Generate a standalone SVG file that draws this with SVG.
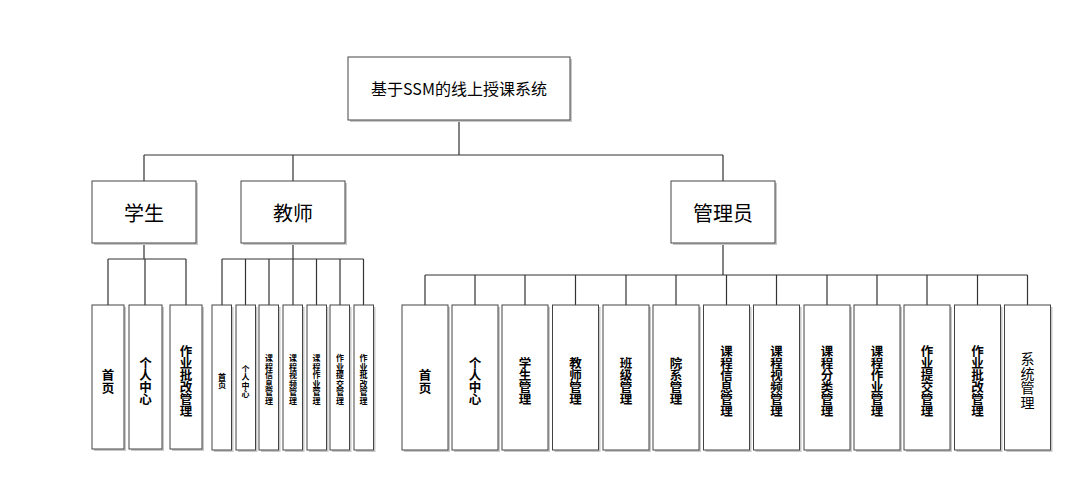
<svg xmlns="http://www.w3.org/2000/svg" width="1072" height="490" viewBox="0 0 1072 490">
<style>
.bx{fill:#fff;stroke:#444;stroke-width:1}
.sh{fill:#c8c8c8}
.ln{fill:none;stroke:#333;stroke-width:1.2}
text{font-family:"Noto Sans CJK SC","Liberation Sans",sans-serif;fill:#000;text-anchor:middle;dominant-baseline:central}
.t0{font-size:16px}
.t1{font-size:20px}
.v{font-size:12.5px;font-weight:bold}
.vs{font-size:14px}
.vt{font-size:8px;font-weight:bold}
</style>
<rect width="1072" height="490" fill="#fff"/>
<g id="connectors">
<path class="ln" d="M459,120V155M144,155H723M144,155V181M293,155V181M723,155V181"/>
<path class="ln" d="M144,243V259M108,259H186M108,259V305M145,259V305M186,259V305"/>
<path class="ln" d="M293,243V259M222,259H363.5M222,259V305M245.5,259V305M269,259V305M293,259V305M316.5,259V305M340,259V305M363.5,259V305"/>
<path class="ln" d="M723,243V275M425,275H1027.5M425,275V305M475,275V305M525,275V305M575.5,275V305M626,275V305M676,275V305M726.5,275V305M776.5,275V305M827,275V305M877,275V305M927,275V305M977.5,275V305M1027.5,275V305"/>
</g>
<g id="root"><rect class="sh" x="350" y="59" width="222" height="63"/><rect class="bx" x="348" y="57" width="222" height="63"/><text class="t0" x="459" y="88">基于SSM的线上授课系统</text></g>
<g id="student"><rect class="sh" x="94" y="183" width="104" height="62"/><rect class="bx" x="92" y="181" width="104" height="62"/><text class="t1" x="144" y="212">学生</text></g>
<g id="teacher"><rect class="sh" x="243" y="183" width="104" height="62"/><rect class="bx" x="241" y="181" width="104" height="62"/><text class="t1" x="293" y="212">教师</text></g>
<g id="admin"><rect class="sh" x="673" y="183" width="104" height="62"/><rect class="bx" x="671" y="181" width="104" height="62"/><text class="t1" x="723" y="212">管理员</text></g>

<g id="s1"><rect class="sh" x="94" y="307" width="32" height="144"/><rect class="bx" x="92" y="305" width="32" height="144"/><text class="v"><tspan x="108" y="373.5">首</tspan><tspan x="108" y="386.5">页</tspan></text></g>
<g id="s2"><rect class="sh" x="131" y="307" width="33" height="144"/><rect class="bx" x="129" y="305" width="33" height="144"/><text class="v"><tspan x="145.5" y="362">个</tspan><tspan x="145.5" y="374">人</tspan><tspan x="145.5" y="386">中</tspan><tspan x="145.5" y="398">心</tspan></text></g>
<g id="s3"><rect class="sh" x="172" y="307" width="32" height="144"/><rect class="bx" x="170" y="305" width="32" height="144"/><text class="v"><tspan x="186" y="350">作</tspan><tspan x="186" y="362">业</tspan><tspan x="186" y="374">批</tspan><tspan x="186" y="386">改</tspan><tspan x="186" y="398">管</tspan><tspan x="186" y="410">理</tspan></text></g>

<g id="t1"><rect class="sh" x="214" y="307" width="19.5" height="145"/><rect class="bx" x="212" y="305" width="19.5" height="145"/><text class="vt"><tspan x="222" y="375.5">首</tspan><tspan x="222" y="384">页</tspan></text></g>
<g id="t2"><rect class="sh" x="238" y="307" width="19.5" height="145"/><rect class="bx" x="236" y="305" width="19.5" height="145"/><text class="vt"><tspan x="245.5" y="367.5">个</tspan><tspan x="245.5" y="376">人</tspan><tspan x="245.5" y="384.5">中</tspan><tspan x="245.5" y="393">心</tspan></text></g>
<g id="t3"><rect class="sh" x="261" y="307" width="19.5" height="145"/><rect class="bx" x="259" y="305" width="19.5" height="145"/><text class="vt"><tspan x="269" y="357">课</tspan><tspan x="269" y="365.5">程</tspan><tspan x="269" y="374">信</tspan><tspan x="269" y="382.5">息</tspan><tspan x="269" y="391">管</tspan><tspan x="269" y="399.5">理</tspan></text></g>
<g id="t4"><rect class="sh" x="285" y="307" width="19.5" height="145"/><rect class="bx" x="283" y="305" width="19.5" height="145"/><text class="vt"><tspan x="293" y="357">课</tspan><tspan x="293" y="365.5">程</tspan><tspan x="293" y="374">视</tspan><tspan x="293" y="382.5">频</tspan><tspan x="293" y="391">管</tspan><tspan x="293" y="399.5">理</tspan></text></g>
<g id="t5"><rect class="sh" x="309" y="307" width="19.5" height="145"/><rect class="bx" x="307" y="305" width="19.5" height="145"/><text class="vt"><tspan x="316.5" y="357">课</tspan><tspan x="316.5" y="365.5">程</tspan><tspan x="316.5" y="374">作</tspan><tspan x="316.5" y="382.5">业</tspan><tspan x="316.5" y="391">管</tspan><tspan x="316.5" y="399.5">理</tspan></text></g>
<g id="t6"><rect class="sh" x="332" y="307" width="19.5" height="145"/><rect class="bx" x="330" y="305" width="19.5" height="145"/><text class="vt"><tspan x="340" y="357">作</tspan><tspan x="340" y="365.5">业</tspan><tspan x="340" y="374">提</tspan><tspan x="340" y="382.5">交</tspan><tspan x="340" y="391">管</tspan><tspan x="340" y="399.5">理</tspan></text></g>
<g id="t7"><rect class="sh" x="356" y="307" width="19.5" height="145"/><rect class="bx" x="354" y="305" width="19.5" height="145"/><text class="vt"><tspan x="363.5" y="357">作</tspan><tspan x="363.5" y="365.5">业</tspan><tspan x="363.5" y="374">批</tspan><tspan x="363.5" y="382.5">改</tspan><tspan x="363.5" y="391">管</tspan><tspan x="363.5" y="399.5">理</tspan></text></g>

<g id="a1"><rect class="sh" x="404" y="307" width="46" height="145"/><rect class="bx" x="402" y="305" width="46" height="145"/><text class="v"><tspan x="425" y="373.5">首</tspan><tspan x="425" y="386.5">页</tspan></text></g>
<g id="a2"><rect class="sh" x="454" y="307" width="46" height="145"/><rect class="bx" x="452" y="305" width="46" height="145"/><text class="v"><tspan x="475" y="362">个</tspan><tspan x="475" y="374">人</tspan><tspan x="475" y="386">中</tspan><tspan x="475" y="398">心</tspan></text></g>
<g id="a3"><rect class="sh" x="504" y="307" width="46" height="145"/><rect class="bx" x="502" y="305" width="46" height="145"/><text class="v"><tspan x="525" y="362">学</tspan><tspan x="525" y="374">生</tspan><tspan x="525" y="386">管</tspan><tspan x="525" y="398">理</tspan></text></g>
<g id="a4"><rect class="sh" x="554.5" y="307" width="46" height="145"/><rect class="bx" x="552.5" y="305" width="46" height="145"/><text class="v"><tspan x="575.5" y="362">教</tspan><tspan x="575.5" y="374">师</tspan><tspan x="575.5" y="386">管</tspan><tspan x="575.5" y="398">理</tspan></text></g>
<g id="a5"><rect class="sh" x="605" y="307" width="46" height="145"/><rect class="bx" x="603" y="305" width="46" height="145"/><text class="v"><tspan x="626" y="362">班</tspan><tspan x="626" y="374">级</tspan><tspan x="626" y="386">管</tspan><tspan x="626" y="398">理</tspan></text></g>
<g id="a6"><rect class="sh" x="655" y="307" width="46" height="145"/><rect class="bx" x="653" y="305" width="46" height="145"/><text class="v"><tspan x="676" y="362">院</tspan><tspan x="676" y="374">系</tspan><tspan x="676" y="386">管</tspan><tspan x="676" y="398">理</tspan></text></g>
<g id="a7"><rect class="sh" x="705.5" y="307" width="46" height="145"/><rect class="bx" x="703.5" y="305" width="46" height="145"/><text class="v"><tspan x="726.5" y="350">课</tspan><tspan x="726.5" y="362">程</tspan><tspan x="726.5" y="374">信</tspan><tspan x="726.5" y="386">息</tspan><tspan x="726.5" y="398">管</tspan><tspan x="726.5" y="410">理</tspan></text></g>
<g id="a8"><rect class="sh" x="755.5" y="307" width="46" height="145"/><rect class="bx" x="753.5" y="305" width="46" height="145"/><text class="v"><tspan x="776.5" y="350">课</tspan><tspan x="776.5" y="362">程</tspan><tspan x="776.5" y="374">视</tspan><tspan x="776.5" y="386">频</tspan><tspan x="776.5" y="398">管</tspan><tspan x="776.5" y="410">理</tspan></text></g>
<g id="a9"><rect class="sh" x="806" y="307" width="46" height="145"/><rect class="bx" x="804" y="305" width="46" height="145"/><text class="v"><tspan x="827" y="350">课</tspan><tspan x="827" y="362">程</tspan><tspan x="827" y="374">分</tspan><tspan x="827" y="386">类</tspan><tspan x="827" y="398">管</tspan><tspan x="827" y="410">理</tspan></text></g>
<g id="a10"><rect class="sh" x="856" y="307" width="46" height="145"/><rect class="bx" x="854" y="305" width="46" height="145"/><text class="v"><tspan x="877" y="350">课</tspan><tspan x="877" y="362">程</tspan><tspan x="877" y="374">作</tspan><tspan x="877" y="386">业</tspan><tspan x="877" y="398">管</tspan><tspan x="877" y="410">理</tspan></text></g>
<g id="a11"><rect class="sh" x="906" y="307" width="46" height="145"/><rect class="bx" x="904" y="305" width="46" height="145"/><text class="v"><tspan x="927" y="350">作</tspan><tspan x="927" y="362">业</tspan><tspan x="927" y="374">提</tspan><tspan x="927" y="386">交</tspan><tspan x="927" y="398">管</tspan><tspan x="927" y="410">理</tspan></text></g>
<g id="a12"><rect class="sh" x="956.5" y="307" width="46" height="145"/><rect class="bx" x="954.5" y="305" width="46" height="145"/><text class="v"><tspan x="977.5" y="350">作</tspan><tspan x="977.5" y="362">业</tspan><tspan x="977.5" y="374">批</tspan><tspan x="977.5" y="386">改</tspan><tspan x="977.5" y="398">管</tspan><tspan x="977.5" y="410">理</tspan></text></g>
<g id="a13"><rect class="sh" x="1006.5" y="307" width="46" height="145"/><rect class="bx" x="1004.5" y="305" width="46" height="145"/><text class="vs"><tspan x="1027.5" y="358.25">系</tspan><tspan x="1027.5" y="372.75">统</tspan><tspan x="1027.5" y="387.25">管</tspan><tspan x="1027.5" y="401.75">理</tspan></text></g>
</svg>
